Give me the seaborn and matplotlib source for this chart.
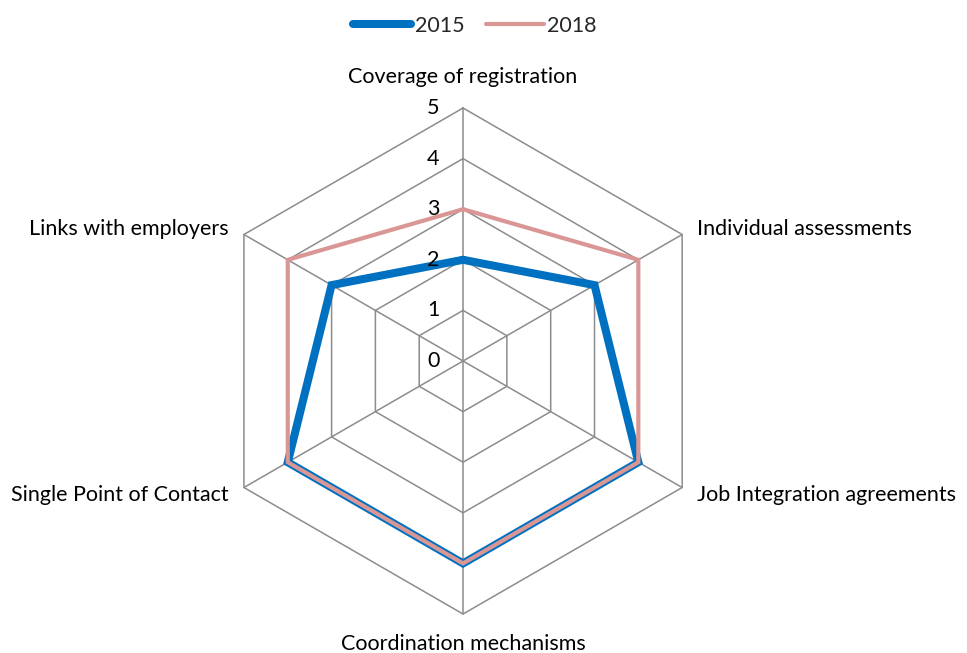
import numpy as np
import pandas as pd
import matplotlib
matplotlib.use("Agg")
import matplotlib.pyplot as plt
import seaborn as sns

# data
categories = ["Coverage of registration", "Individual assessments",
              "Job Integration agreements", "Coordination mechanisms",
              "Single Point of Contact", "Links with employers"]
values_2015 = [2, 3, 4, 4, 4, 3]
values_2018 = [3, 4, 4, 4, 4, 4]
radial_ticks = [0, 1, 2, 3, 4, 5]

BLUE = "#0070C0"
PINK = "#D99694"
GRID = "#8C8C8C"
FS = 15.5

sns.set_theme(style="white")
plt.rcParams["font.family"] = ["Lato", "DejaVu Sans"]

n = len(categories)
angles = np.arange(n) * 2 * np.pi / n
closed = np.append(angles, angles[0] + 2 * np.pi)

df = pd.DataFrame({
    "theta": np.concatenate([closed, closed]),
    "value": values_2015 + values_2015[:1] + values_2018 + values_2018[:1],
    "year": ["2015"] * (n + 1) + ["2018"] * (n + 1),
})

fig = plt.figure(figsize=(9.67, 6.53), dpi=100)
ax = fig.add_axes([0.2172, 0.0597, 0.5233, 0.7749], projection="polar")
ax.set_theta_zero_location("N")
ax.set_theta_direction(-1)
ax.set_ylim(0, 5)
ax.grid(False)
ax.set_xticks([])
ax.set_yticks([])
ax.spines["polar"].set_visible(False)

# hexagonal grid
for r in radial_ticks[1:]:
    ax.plot(closed, [r] * (n + 1), color=GRID, lw=1.1, clip_on=False, zorder=1)
for a in angles:
    ax.plot([a, a], [0, radial_ticks[-1]], color=GRID, lw=1.1, clip_on=False, zorder=1)

# series
sub15 = df[df["year"] == "2015"]
sub18 = df[df["year"] == "2018"]
sns.lineplot(data=sub15, x="theta", y="value", sort=False, ax=ax, color=BLUE,
             lw=5.8, label="2015", clip_on=False, zorder=3, solid_joinstyle="miter")
sns.lineplot(data=sub18, x="theta", y="value", sort=False, ax=ax, color=PINK,
             lw=3, label="2018", clip_on=False, zorder=4, solid_joinstyle="miter")
ax.set_xlabel("")
ax.set_ylabel("")
ax.set_ylim(0, 5)

# radial tick labels
for r in radial_ticks:
    ax.annotate(str(r), (0, r), xytext=(-21.5, 0), textcoords="offset points",
                ha="center", va="center", fontsize=FS, color="black",
                annotation_clip=False)

# category labels
px = 0.72
offsets = [(0, 31, "center"), (15, 6, "left"), (15, -7, "left"),
           (0, -30, "center"), (-15, -7, "right"), (-15, 6, "right")]
for a, lab, (dx, dy, ha) in zip(angles, categories, offsets):
    ax.annotate(lab, (a, 5), xytext=(dx * px, dy * px), textcoords="offset points",
                ha=ha, va="center", fontsize=FS, color="black",
                annotation_clip=False)

ax.legend_.remove()
h, l = ax.get_legend_handles_labels()
fig.legend(h, l, loc="center", bbox_to_anchor=(475 / 967, 1 - 26 / 653), ncol=2,
           frameon=False, fontsize=FS, handlelength=2.7, handletextpad=0.15,
           columnspacing=1.0)

fig.savefig("out.png", dpi=100)
